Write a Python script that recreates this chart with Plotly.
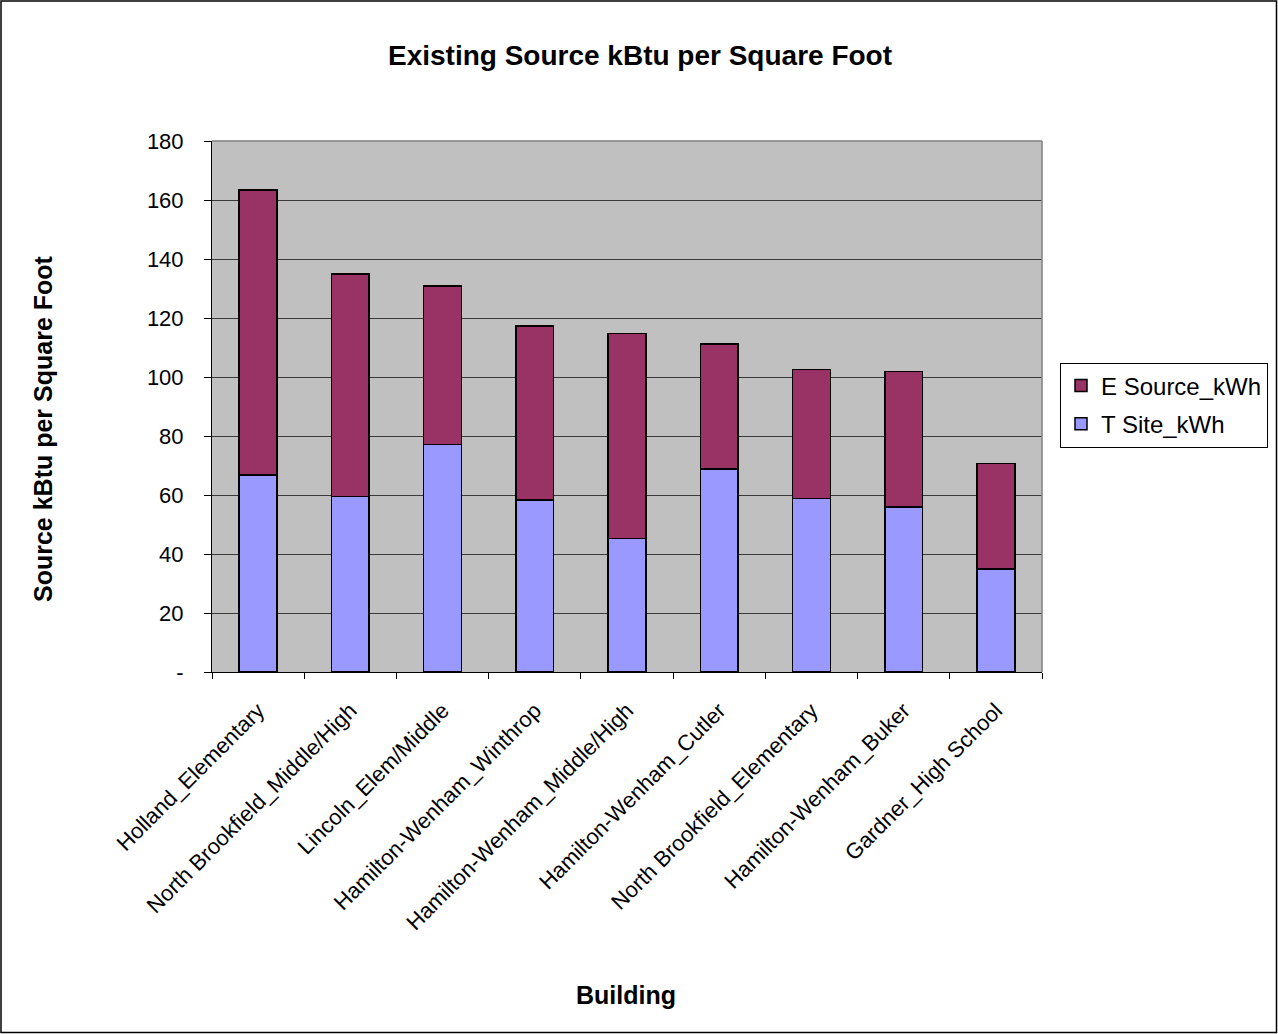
import plotly.graph_objects as go

buildings = ["Holland_Elementary", "North Brookfield_Middle/High", "Lincoln_Elem/Middle",
             "Hamilton-Wenham_Winthrop", "Hamilton-Wenham_Middle/High", "Hamilton-Wenham_Cutler",
             "North Brookfield_Elementary", "Hamilton-Wenham_Buker", "Gardner_High School"]
t_site = [66.7, 59.5, 77.2, 58.3, 45.3, 68.8, 58.9, 55.9, 34.9]
totals = [163.4, 135.0, 130.8, 117.3, 114.8, 111.2, 102.6, 101.8, 70.6]
e_source = [round(t - s, 1) for t, s in zip(totals, t_site)]
y_ticks = [0, 20, 40, 60, 80, 100, 120, 140, 160, 180]
y_ticktext = ["-", "20", "40", "60", "80", "100", "120", "140", "160", "180"]

W, H = 1278, 1034
L, R, T, B = 212, 1042, 141, 672
pw, ph = R - L, B - T

def px(x):
    return (x - L) / pw

def py(y):
    return (B - y) / ph

FONT = "Liberation Sans, Arial, sans-serif"

fig = go.Figure()
fig.add_trace(go.Bar(x=buildings, y=t_site, name="T Site_kWh", legendgroup="t", legendrank=2,
                     marker=dict(color="#9999FF", line=dict(color="black", width=1.5))))
fig.add_trace(go.Bar(x=buildings, y=e_source, name="E Source_kWh", legendgroup="e", legendrank=1,
                     marker=dict(color="#993366", line=dict(color="black", width=1.5))))

fig.update_layout(
    width=W, height=H, barmode="stack", bargap=0.59,
    margin=dict(l=L, r=W - R, t=T, b=H - B, autoexpand=False),
    paper_bgcolor="white", plot_bgcolor="#C0C0C0",
    font=dict(family=FONT, color="black"),
    title=dict(text="<b>Existing Source kBtu per Square Foot</b>", x=px(640), xref="paper",
               xanchor="center", y=1 - 55 / H, yanchor="middle", font=dict(size=28)),
    legend=dict(x=px(1060), y=py(405), xanchor="left", yanchor="middle",
                bordercolor="black", borderwidth=1, bgcolor="white",
                font=dict(size=24), traceorder="grouped", tracegroupgap=4,
                itemwidth=30),
    showlegend=True,
)
fig.update_xaxes(showline=True, linecolor="black", linewidth=1, mirror=False,
                 ticks="outside", ticklen=6, tickcolor="black", tickson="boundaries",
                 tickangle=-45, tickfont=dict(size=22), showgrid=False,
                 ticklabelstandoff=16)
fig.update_yaxes(range=[0, 180], tickvals=y_ticks, ticktext=y_ticktext,
                 showline=True, linecolor="black", linewidth=1,
                 ticks="outside", ticklen=7, tickcolor="black",
                 tickfont=dict(size=22), showgrid=True, gridcolor="#3a3a3a", gridwidth=1,
                 zeroline=False, ticklabelstandoff=16)

# plot area border (top/right gray)
fig.add_shape(type="line", xref="paper", yref="paper", x0=0, x1=1, y0=1, y1=1,
              line=dict(color="#808080", width=1.5))
fig.add_shape(type="line", xref="paper", yref="paper", x0=1, x1=1, y0=0, y1=1,
              line=dict(color="#808080", width=1.5))
# outer chart border
fig.add_shape(type="rect", xref="paper", yref="paper",
              x0=px(1), x1=px(W - 1.5), y0=py(H - 1.5), y1=py(1),
              line=dict(color="black", width=1.5))

fig.add_annotation(text="<b>Source kBtu per Square Foot</b>", xref="paper", yref="paper",
                   x=px(43), y=py(429), textangle=-90, showarrow=False,
                   font=dict(size=25), xanchor="center", yanchor="middle")
fig.add_annotation(text="<b>Building</b>", xref="paper", yref="paper",
                   x=px(626), y=py(995), showarrow=False, font=dict(size=25),
                   xanchor="center", yanchor="middle")

fig.write_html("out.html", config={"displayModeBar": False},
               post_script="document.body.style.margin='0';document.body.style.overflow='hidden';")
